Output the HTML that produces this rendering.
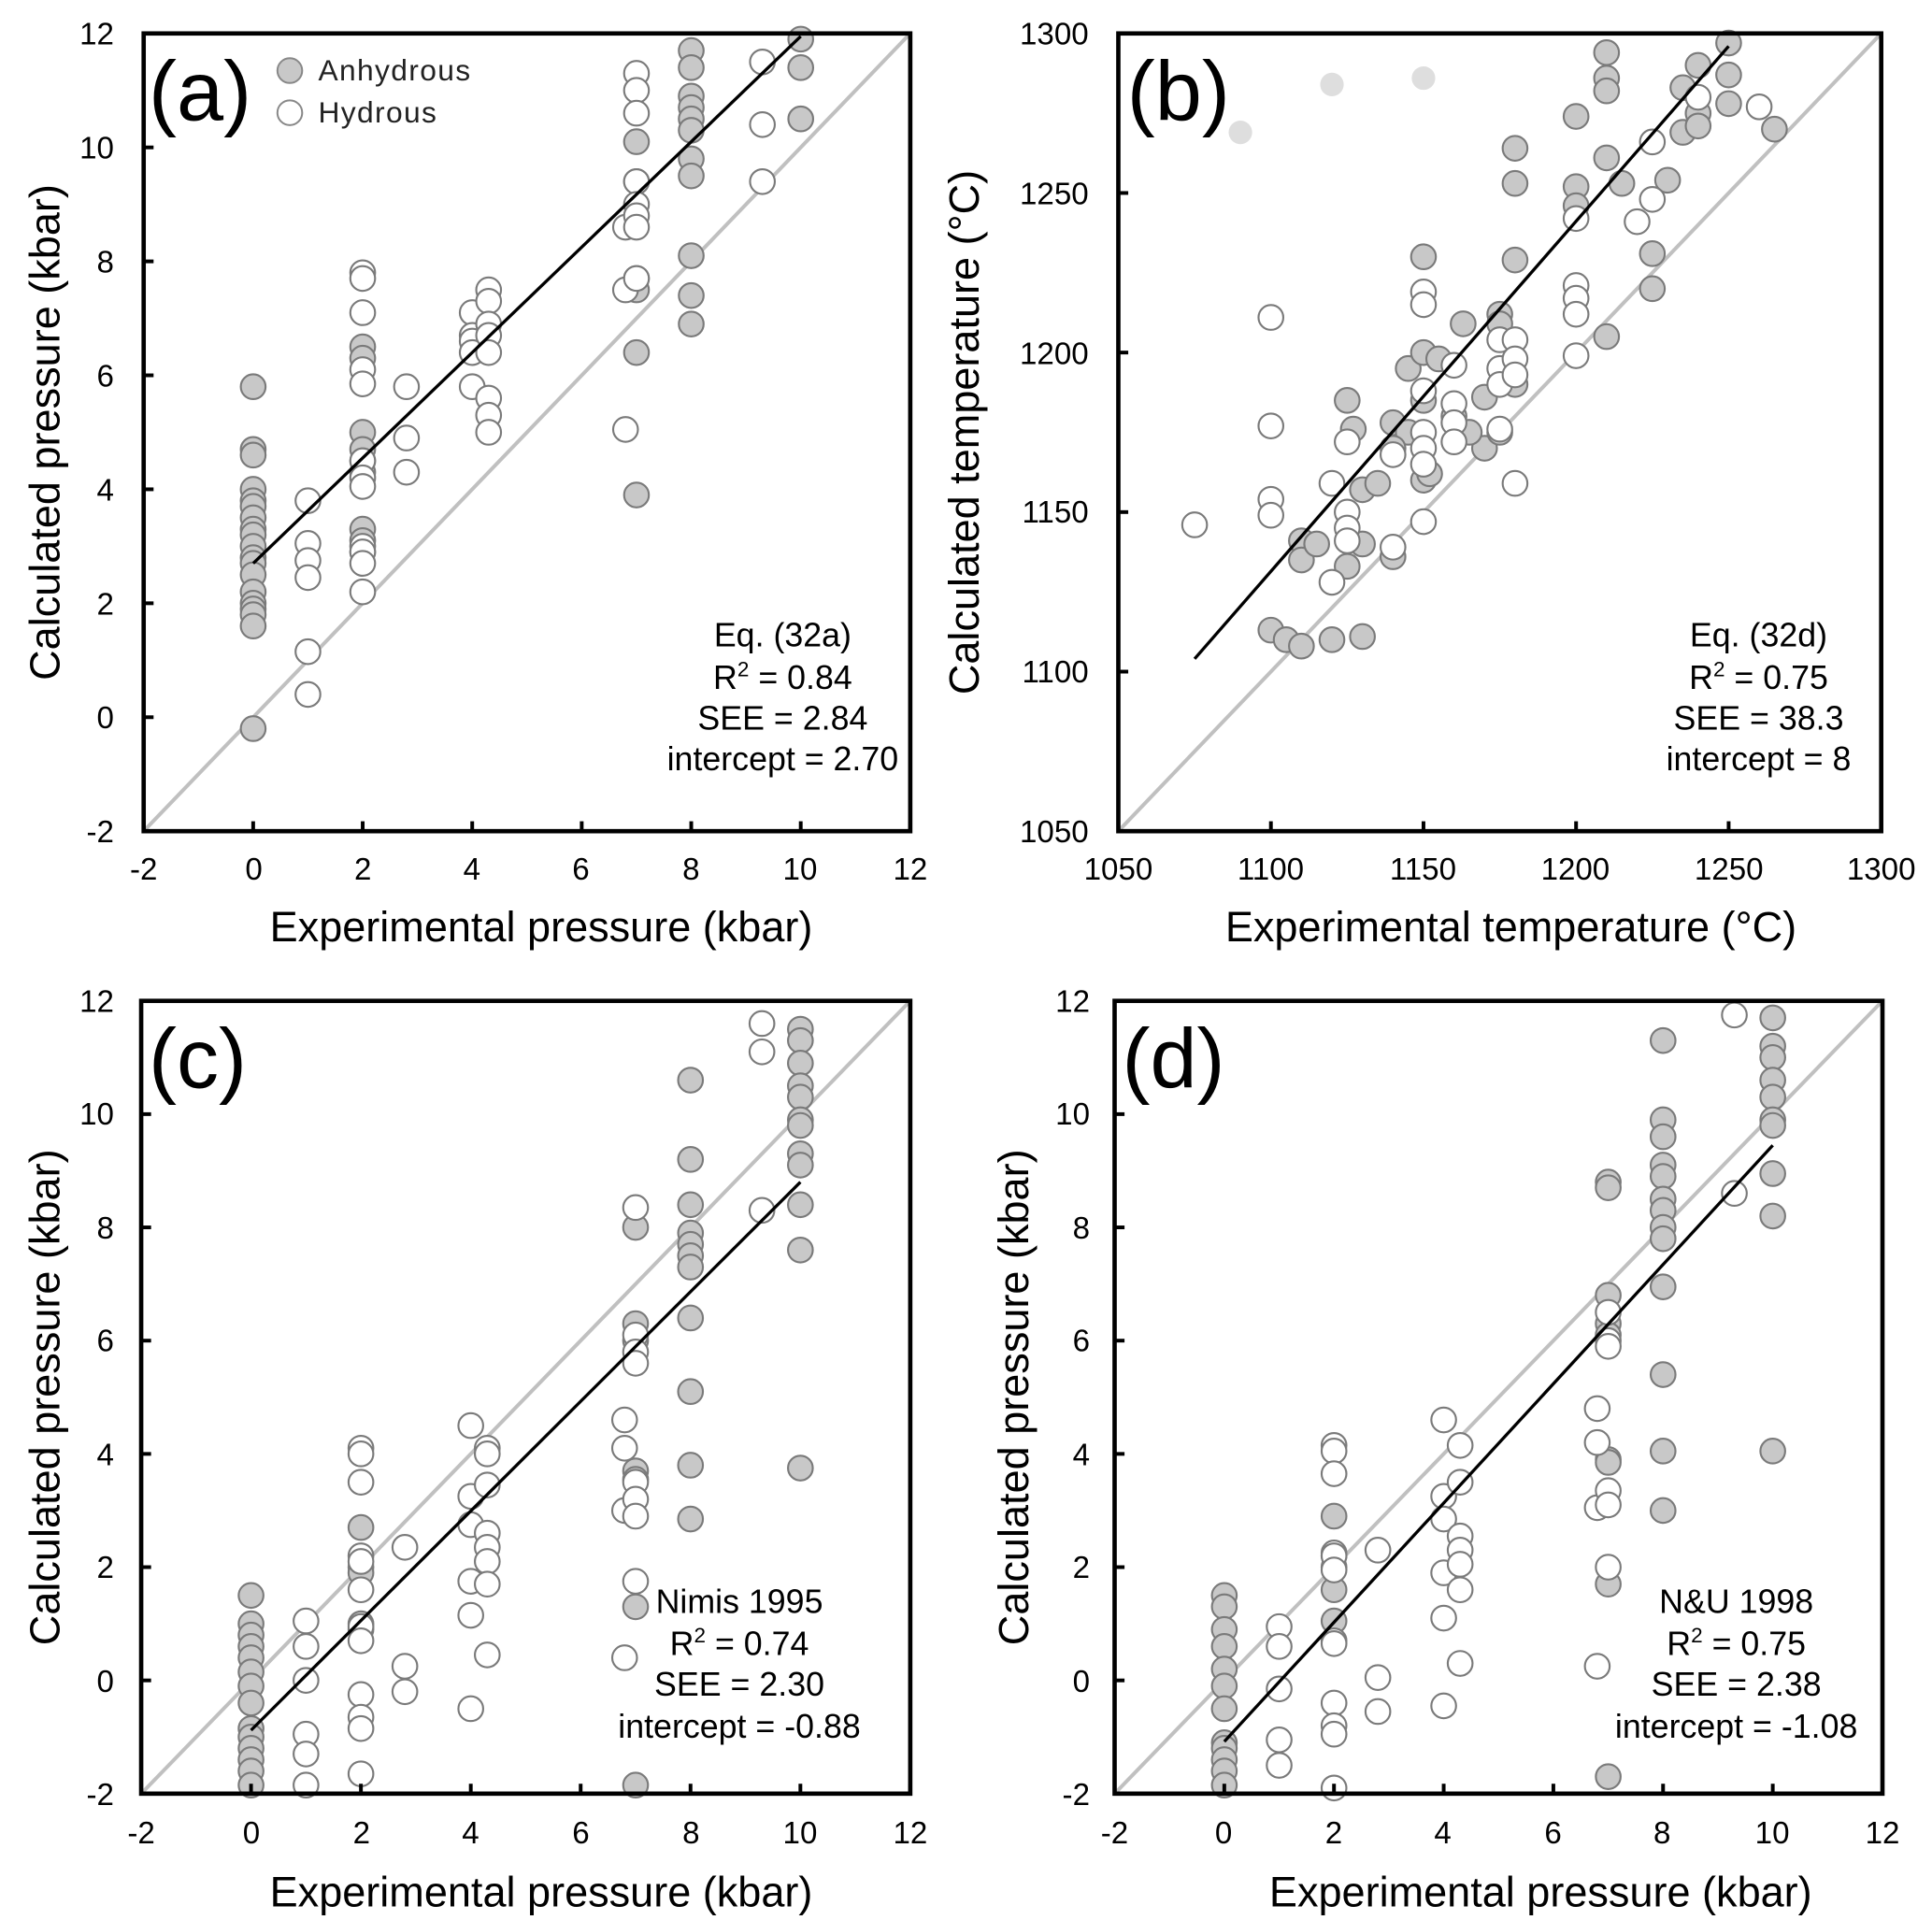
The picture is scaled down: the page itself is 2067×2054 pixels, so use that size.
<!DOCTYPE html>
<html><head><meta charset="utf-8"><style>
html,body{margin:0;padding:0;background:#fff;}
svg{display:block;font-family:"Liberation Sans",Arial,sans-serif;}
</style></head><body>
<svg id="s" width="2067" height="2054" viewBox="0 0 1560 1550" preserveAspectRatio="none" xmlns="http://www.w3.org/2000/svg">
<rect width="1560" height="1550" fill="#fff"/>
<g id="plots"></g>
<g font-size="25" fill="#000">
<text x="92" y="36" text-anchor="end">12</text><text x="92" y="128" text-anchor="end">10</text><text x="92" y="220" text-anchor="end">8</text><text x="92" y="312" text-anchor="end">6</text><text x="92" y="404" text-anchor="end">4</text><text x="92" y="496" text-anchor="end">2</text><text x="92" y="588" text-anchor="end">0</text><text x="92" y="680" text-anchor="end">-2</text>
<text x="116" y="710" text-anchor="middle">-2</text><text x="205" y="710" text-anchor="middle">0</text><text x="293" y="710" text-anchor="middle">2</text><text x="381" y="710" text-anchor="middle">4</text><text x="469" y="710" text-anchor="middle">6</text><text x="558" y="710" text-anchor="middle">8</text><text x="646" y="710" text-anchor="middle">10</text><text x="735" y="710" text-anchor="middle">12</text>
<text x="879" y="36" text-anchor="end">1300</text><text x="879" y="165" text-anchor="end">1250</text><text x="879" y="294" text-anchor="end">1200</text><text x="879" y="422" text-anchor="end">1150</text><text x="879" y="551" text-anchor="end">1100</text><text x="879" y="680" text-anchor="end">1050</text>
<text x="903" y="710" text-anchor="middle">1050</text><text x="1026" y="710" text-anchor="middle">1100</text><text x="1149" y="710" text-anchor="middle">1150</text><text x="1272" y="710" text-anchor="middle">1200</text><text x="1396" y="710" text-anchor="middle">1250</text><text x="1519" y="710" text-anchor="middle">1300</text>
<text x="92" y="817" text-anchor="end">12</text><text x="92" y="908" text-anchor="end">10</text><text x="92" y="1000" text-anchor="end">8</text><text x="92" y="1091" text-anchor="end">6</text><text x="92" y="1183" text-anchor="end">4</text><text x="92" y="1274" text-anchor="end">2</text><text x="92" y="1366" text-anchor="end">0</text><text x="92" y="1457" text-anchor="end">-2</text>
<text x="114" y="1488" text-anchor="middle">-2</text><text x="203" y="1488" text-anchor="middle">0</text><text x="292" y="1488" text-anchor="middle">2</text><text x="380" y="1488" text-anchor="middle">4</text><text x="469" y="1488" text-anchor="middle">6</text><text x="558" y="1488" text-anchor="middle">8</text><text x="646" y="1488" text-anchor="middle">10</text><text x="735" y="1488" text-anchor="middle">12</text>
<text x="880" y="817" text-anchor="end">12</text><text x="880" y="908" text-anchor="end">10</text><text x="880" y="1000" text-anchor="end">8</text><text x="880" y="1091" text-anchor="end">6</text><text x="880" y="1183" text-anchor="end">4</text><text x="880" y="1274" text-anchor="end">2</text><text x="880" y="1366" text-anchor="end">0</text><text x="880" y="1457" text-anchor="end">-2</text>
<text x="900" y="1488" text-anchor="middle">-2</text><text x="988" y="1488" text-anchor="middle">0</text><text x="1077" y="1488" text-anchor="middle">2</text><text x="1165" y="1488" text-anchor="middle">4</text><text x="1254" y="1488" text-anchor="middle">6</text><text x="1342" y="1488" text-anchor="middle">8</text><text x="1431" y="1488" text-anchor="middle">10</text><text x="1520" y="1488" text-anchor="middle">12</text>
</g>
<g font-size="34" fill="#000">
<text x="437" y="760" text-anchor="middle">Experimental pressure (kbar)</text>
<text x="1220" y="760" text-anchor="middle">Experimental temperature (°C)</text>
<text x="437" y="1539" text-anchor="middle">Experimental pressure (kbar)</text>
<text x="1244" y="1539" text-anchor="middle">Experimental pressure (kbar)</text>
<text transform="translate(48,349) rotate(-90)" text-anchor="middle">Calculated pressure (kbar)</text>
<text transform="translate(790,349) rotate(-90)" text-anchor="middle">Calculated temperature (°C)</text>
<text transform="translate(48,1128) rotate(-90)" text-anchor="middle">Calculated pressure (kbar)</text>
<text transform="translate(830,1128) rotate(-90)" text-anchor="middle">Calculated pressure (kbar)</text>
</g>
<g font-size="68" fill="#000">
<text x="120" y="97">(a)</text><text x="910" y="97">(b)</text><text x="120" y="878">(c)</text><text x="906" y="878">(d)</text>
</g>
<g font-size="24" fill="#222" letter-spacing="1">
<circle cx="234" cy="57" r="10" fill="#c8c8c8" stroke="#888" stroke-width="1.5"/>
<text x="257" y="65">Anhydrous</text>
<circle cx="234" cy="91" r="10" fill="#fff" stroke="#888" stroke-width="1.5"/>
<text x="257" y="99">Hydrous</text>
</g>
<g font-size="27" fill="#000" text-anchor="middle">
<text x="632" y="522">Eq. (32a)</text><text x="632" y="556">R<tspan font-size="17" dy="-10">2</tspan><tspan dy="10"> = 0.84</tspan></text><text x="632" y="589">SEE = 2.84</text><text x="632" y="622">intercept = 2.70</text>
<text x="1420" y="522">Eq. (32d)</text><text x="1420" y="556">R<tspan font-size="17" dy="-10">2</tspan><tspan dy="10"> = 0.75</tspan></text><text x="1420" y="589">SEE = 38.3</text><text x="1420" y="622">intercept = 8</text>
<text x="597" y="1302">Nimis 1995</text><text x="597" y="1336">R<tspan font-size="17" dy="-10">2</tspan><tspan dy="10"> = 0.74</tspan></text><text x="597" y="1369">SEE = 2.30</text><text x="597" y="1403">intercept = -0.88</text>
<text x="1402" y="1302">N&amp;U 1998</text><text x="1402" y="1336">R<tspan font-size="17" dy="-10">2</tspan><tspan dy="10"> = 0.75</tspan></text><text x="1402" y="1369">SEE = 2.38</text><text x="1402" y="1403">intercept = -1.08</text>
</g>
</svg>
<script>
(function(){
var NS="http://www.w3.org/2000/svg",G=document.getElementById("plots");
function el(t,a){var e=document.createElementNS(NS,t);for(var k in a)e.setAttribute(k,a[k]);G.appendChild(e);return e;}
function panel(p){
 var X=function(v){return p.x0+(v-p.vx0)*(p.x1-p.x0)/(p.vx1-p.vx0);};
 var Y=function(v){return p.y1-(v-p.vy0)*(p.y1-p.y0)/(p.vy1-p.vy0);};
 el("line",{x1:X(p.vx0),y1:Y(p.vy0),x2:X(p.vx1),y2:Y(p.vy1),stroke:"#c0c0c0","stroke-width":3});
 (p.light||[]).forEach(function(d){el("circle",{cx:X(d[0]),cy:Y(d[1]),r:9.5,fill:"#dedede"});});
 function pts(list,fill){list.forEach(function(g){var x=g[0];g[1].forEach(function(y){el("circle",{cx:X(x),cy:Y(y),r:10,fill:fill,stroke:"#7a7a7a","stroke-width":1.6});});});}
 if(p.pairsF){p.pairsF.forEach(function(d){el("circle",{cx:X(d[0]),cy:Y(d[1]),r:10,fill:"#c8c8c8",stroke:"#7a7a7a","stroke-width":1.6});});}
 if(p.pairsO){p.pairsO.forEach(function(d){el("circle",{cx:X(d[0]),cy:Y(d[1]),r:10,fill:"#fff",stroke:"#7a7a7a","stroke-width":1.6});});}
 pts(p.F||[],"#c8c8c8");pts(p.O||[],"#fff");
 el("line",{x1:X(p.reg[0]),y1:Y(p.reg[1]),x2:X(p.reg[2]),y2:Y(p.reg[3]),stroke:"#000","stroke-width":2.5});
 el("rect",{x:p.x0,y:p.y0,width:p.x1-p.x0,height:p.y1-p.y0,fill:"none",stroke:"#000","stroke-width":3.5});
 p.xt.forEach(function(v){var x=X(v);el("line",{x1:x,y1:p.y1,x2:x,y2:p.y1-8,stroke:"#000","stroke-width":3});});
 p.yt.forEach(function(v){var y=Y(v);el("line",{x1:p.x0,y1:y,x2:p.x0+8,y2:y,stroke:"#000","stroke-width":3});});
}
var pt=[-2,0,2,4,6,8,10,12];
panel({x0:116,x1:735,y0:27,y1:671,vx0:-2,vx1:12,vy0:-2,vy1:12,xt:pt,yt:pt,reg:[0,2.7,10,11.95],
 F:[[0,[5.8,4.7,4.6,4.0,3.8,3.7,3.5,3.3,3.2,3.0,2.8,2.7,2.5,2.2,2.0,1.9,1.8,1.6,-0.2]],[2,[6.5,6.3,5.0,4.7,4.5,4.3,3.3,3.1,2.9]],[7,[10.1,9.4,7.7,7.5,6.4,3.9]],[8,[11.7,11.4,10.9,10.7,10.5,10.3,9.8,9.5,8.1,7.4,6.9]],[10,[11.9,11.4,10.5]]],
 O:[[1,[3.8,3.05,2.75,2.45,1.15,0.4]],[2,[7.8,7.7,7.1,6.1,5.85,4.5,4.2,4.05,3.0,2.9,2.7,2.2]],[2.8,[5.8,4.9,4.3]],[4,[7.1,6.7,6.6,6.4,5.8]],[4.3,[7.5,7.3,6.9,6.7,6.4,5.6,5.3,5.0]],[6.8,[8.6,7.5,5.05]],[7,[11.3,11.0,10.6,9.4,9.0,8.8,8.6,7.7]],[9.3,[11.5,10.4,9.4]]]});
panel({x0:903,x1:1519,y0:27,y1:671,vx0:1050,vx1:1300,vy0:1050,vy1:1300,xt:[1100,1150,1200,1250],yt:[1100,1150,1200,1250],reg:[1075,1104,1250,1296],
 light:[[1090,1269],[1120,1284],[1150,1286]],
 pairsF:[[1100,1113],[1105,1110],[1110,1108],[1120,1110],[1130,1111],[1110,1141],[1110,1135],[1115,1140],[1125,1133],[1125,1185],[1127,1176],[1130,1140],[1130,1157],[1135,1159],[1140,1178],[1140,1136],[1145,1195],[1150,1230],[1150,1200],[1150,1185],[1150,1160],[1152,1162],[1155,1198],[1160,1180],[1163,1209],[1170,1170],[1170,1186],[1175,1212],[1175,1175],[1180,1264],[1180,1253],[1180,1229],[1180,1190],[1200,1274],[1200,1252],[1200,1246],[1210,1294],[1210,1286],[1210,1282],[1210,1261],[1215,1253],[1210,1205],[1225,1220],[1225,1231],[1230,1254],[1235,1269],[1235,1283],[1240,1290],[1240,1275],[1240,1271],[1250,1297],[1250,1287],[1250,1278],[1265,1270],[1175,1209],[1165,1175],[1145,1175],[1140,1170]],
 pairsO:[[1075,1146],[1100,1211],[1100,1177],[1100,1154],[1100,1149],[1120,1159],[1120,1128],[1125,1172],[1125,1150],[1125,1145],[1125,1141],[1140,1139],[1140,1168],[1150,1219],[1150,1215],[1150,1188],[1150,1175],[1150,1170],[1150,1165],[1150,1147],[1160,1196],[1160,1184],[1160,1178],[1160,1172],[1175,1204],[1175,1195],[1175,1190],[1175,1176],[1180,1204],[1180,1198],[1180,1193],[1180,1159],[1200,1221],[1200,1217],[1200,1212],[1200,1199],[1200,1242],[1220,1241],[1225,1248],[1225,1266],[1240,1280],[1260,1277]]});
panel({x0:114,x1:735,y0:808,y1:1448,vx0:-2,vx1:12,vy0:-2,vy1:12,xt:pt,yt:pt,reg:[0,-0.88,10,8.8],
 F:[[0,[1.5,1.0,0.8,0.6,0.4,0.15,-0.1,-0.4,-0.85,-1.0,-1.2,-1.4,-1.6,-1.85]],[2,[2.7,2.0,1.9,1.0,0.9]],[7,[8.0,6.3,6.0,3.7,3.55,1.3,-1.85]],[8,[10.6,9.2,8.4,7.9,7.7,7.5,7.3,6.4,5.1,3.8,2.85]],[10,[11.5,11.3,10.9,10.5,10.3,9.9,9.8,9.3,9.1,8.4,7.6,3.75]]],
 O:[[1,[1.05,0.6,0.0,-0.95,-1.3,-1.85]],[2,[4.1,4.0,3.5,2.2,2.1,1.6,0.95,0.7,-0.25,-0.65,-0.85,-1.65]],[2.8,[2.35,0.25,-0.2]],[4,[4.5,3.25,2.75,1.75,1.15,-0.5]],[4.3,[4.1,4.0,3.45,2.6,2.35,2.1,1.7,0.45]],[6.8,[4.6,4.1,3.0,0.4]],[7,[8.35,6.1,5.8,5.6,3.5,3.2,2.9,1.75]],[9.3,[11.6,11.1,8.3]]]});
panel({x0:900,x1:1520,y0:808,y1:1448,vx0:-2,vx1:12,vy0:-2,vy1:12,xt:pt,yt:pt,reg:[0,-1.08,10,9.45],
 F:[[0,[1.5,1.3,0.9,0.6,0.2,-0.1,-0.5,-1.1,-1.2,-1.4,-1.6,-1.85]],[2,[2.9,2.2,2.0,1.6,1.05]],[7,[8.8,8.7,6.8,6.3,6.1,3.9,3.85,1.7,-1.7]],[8,[11.3,9.9,9.6,9.1,8.9,8.5,8.3,8.0,7.8,6.95,5.4,4.05,3.0]],[10,[11.7,11.2,11.0,10.6,10.3,9.9,9.8,8.95,8.2,4.05]]],
 O:[[1,[0.95,0.6,-0.15,-1.05,-1.5]],[2,[4.15,4.05,3.65,2.25,2.2,1.95,0.7,0.65,-0.4,-0.8,-0.95,-1.9]],[2.8,[2.3,0.05,-0.55]],[4,[4.6,3.25,2.85,1.9,1.1,-0.45]],[4.3,[4.15,3.5,2.55,2.3,2.05,1.6,0.3]],[6.8,[4.8,4.2,3.05,0.25]],[7,[6.5,6.0,5.9,3.35,3.1,2.0]],[9.3,[11.75,8.6]]]});
})();
</script>
</body></html>
